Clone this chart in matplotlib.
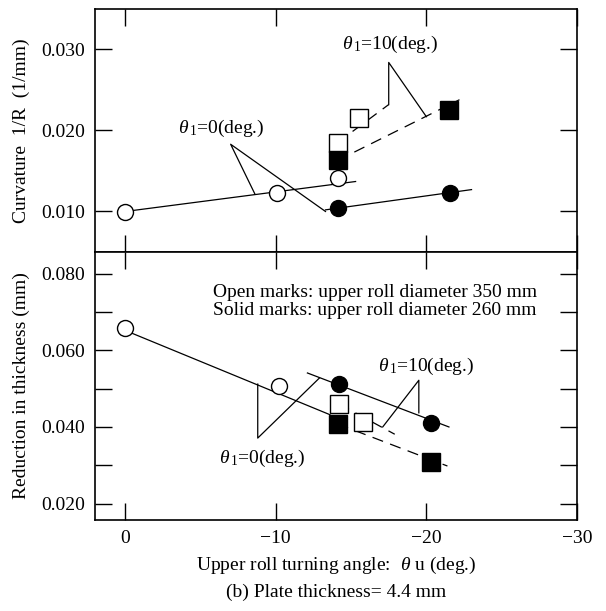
import matplotlib
matplotlib.use("Agg")
import matplotlib.pyplot as plt

plt.rcParams["font.family"] = ["Liberation Serif", "DejaVu Serif"]
plt.rcParams["mathtext.fontset"] = "custom"
plt.rcParams["mathtext.rm"] = "Liberation Serif"
plt.rcParams["mathtext.it"] = "Liberation Serif:italic"

# ---- upper panel: curvature 1/R (1/mm) ----
cur_open_circ_x = [0, -10.1, -14.1]
cur_open_circ_y = [0.0099, 0.0123, 0.0141]
cur_solid_circ_x = [-14.1, -21.6]
cur_solid_circ_y = [0.0104, 0.0123]
cur_open_sq_x = [-14.1, -15.5]
cur_open_sq_y = [0.0185, 0.0215]
cur_solid_sq_x = [-14.1, -21.5]
cur_solid_sq_y = [0.0164, 0.0225]

# fitted lines (end points)
cur_fit_open_circ = ([0, -15.3], [0.0100, 0.0137])
cur_fit_solid_circ = ([-13.3, -23.0], [0.0102, 0.0127])
cur_fit_open_sq = ([-14.1, -17.5], [0.0185, 0.0232])
cur_fit_solid_sq = ([-14.1, -22.2], [0.0163, 0.0238])

# leader lines to the labels
cur_lead_0 = ([-8.6, -7.0, -13.3], [0.0122, 0.0183, 0.0100])
cur_lead_10 = ([-17.5, -17.5, -20.0], [0.0232, 0.0284, 0.0217])

# ---- lower panel: reduction in thickness (mm) ----
red_open_circ_x = [0, -10.2]
red_open_circ_y = [0.0658, 0.0508]
red_solid_circ_x = [-14.2, -20.3]
red_solid_circ_y = [0.0512, 0.0410]
red_open_sq_x = [-14.2, -15.8]
red_open_sq_y = [0.0460, 0.0413]
red_solid_sq_x = [-14.1, -20.3]
red_solid_sq_y = [0.0408, 0.0309]

red_fit_open_circ = ([0, -13.6], [0.0652, 0.0432])
red_fit_solid_circ = ([-12.1, -21.5], [0.0541, 0.0400])
red_fit_open_sq = ([-14.2, -17.9], [0.0460, 0.0381])
red_fit_solid_sq = ([-14.1, -21.4], [0.0408, 0.0298])

red_lead_0 = ([-8.8, -8.8, -12.9], [0.0512, 0.0371, 0.0528])
red_lead_10 = ([-19.5, -19.5, -17.1], [0.0437, 0.0522, 0.0400])

x_ticks = [0, -10, -20, -30]
cur_ticks = [0.010, 0.020, 0.030]
red_ticks = [0.020, 0.030, 0.040, 0.050, 0.060, 0.070, 0.080]
red_tick_labels = ["0.020", "", "0.040", "", "0.060", "", "0.080"]

FS = 14
LW = 0.9
DASH = (0, (9, 6))

fig = plt.figure(figsize=(6.06, 6.11), dpi=100)
ax1 = fig.add_axes([0.157, 0.5876, 0.795, 0.3977])
ax2 = fig.add_axes([0.157, 0.1489, 0.795, 0.4387])


def markers(ax, x, y, marker, filled, ms):
    ax.plot(x, y, linestyle="none", marker=marker, ms=ms,
            mfc="black" if filled else "white", mec="black", mew=1.0, zorder=3)


def style(ax):
    ax.set_xlim(2, -30)
    ax.set_xticks(x_ticks)
    ax.tick_params(direction="in", top=True, right=True, length=12, width=1.0,
                   labelsize=FS, pad=7)
    for s in ax.spines.values():
        s.set_linewidth(1.2)


# upper panel
for line, ls in [(cur_fit_open_circ, "-"), (cur_fit_solid_circ, "-"),
                 (cur_fit_open_sq, DASH), (cur_fit_solid_sq, DASH)]:
    ax1.plot(line[0], line[1], color="black", lw=LW, ls=ls, zorder=2)
for lead in (cur_lead_0, cur_lead_10):
    ax1.plot(lead[0], lead[1], color="black", lw=LW, zorder=2)
markers(ax1, cur_open_circ_x, cur_open_circ_y, "o", False, 11.5)
markers(ax1, cur_solid_circ_x, cur_solid_circ_y, "o", True, 11.5)
markers(ax1, cur_open_sq_x, cur_open_sq_y, "s", False, 12.5)
markers(ax1, cur_solid_sq_x, cur_solid_sq_y, "s", True, 12.5)
ax1.text(-6.4, 0.0202, r"$\theta_{\,1}$=0(deg.)", fontsize=FS, ha="center", va="center")
ax1.text(-17.6, 0.0306, r"$\theta_{\,1}$=10(deg.)", fontsize=FS, ha="center", va="center")

style(ax1)
ax1.set_ylim(0.005, 0.035)
ax1.set_yticks(cur_ticks)
ax1.set_yticklabels([f"{v:.3f}" for v in cur_ticks])
ax1.tick_params(axis="x", labelbottom=False)
ax1.set_ylabel("Curvature  1/R  (1/mm)", fontsize=FS)
ax1.yaxis.set_label_coords(-0.135, 0.5)

# lower panel
for line, ls in [(red_fit_open_circ, "-"), (red_fit_solid_circ, "-"),
                 (red_fit_open_sq, DASH), (red_fit_solid_sq, DASH)]:
    ax2.plot(line[0], line[1], color="black", lw=LW, ls=ls, zorder=2)
for lead in (red_lead_0, red_lead_10):
    ax2.plot(lead[0], lead[1], color="black", lw=LW, zorder=2)
markers(ax2, red_open_circ_x, red_open_circ_y, "o", False, 11.5)
markers(ax2, red_solid_circ_x, red_solid_circ_y, "o", True, 11.5)
markers(ax2, red_open_sq_x, red_open_sq_y, "s", False, 12.5)
markers(ax2, red_solid_sq_x, red_solid_sq_y, "s", True, 12.5)
ax2.text(-9.1, 0.0319, r"$\theta_{\,1}$=0(deg.)", fontsize=FS, ha="center", va="center")
ax2.text(-20.0, 0.0559, r"$\theta_{\,1}$=10(deg.)", fontsize=FS, ha="center", va="center")
ax2.text(-5.85, 0.0750, "Open marks: upper roll diameter 350 mm", fontsize=FS,
         ha="left", va="center")
ax2.text(-5.85, 0.0703, "Solid marks: upper roll diameter 260 mm", fontsize=FS,
         ha="left", va="center")

style(ax2)
ax2.set_ylim(0.0157, 0.0857)
ax2.set_yticks(red_ticks)
ax2.set_yticklabels(red_tick_labels)
ax2.set_xticklabels([f"{t}" if t == 0 else f"\u2212{abs(t)}" for t in x_ticks])
ax2.set_ylabel("Reduction in thickness (mm)", fontsize=FS)
ax2.yaxis.set_label_coords(-0.135, 0.5)

fig.text(0.5545, 0.0753, r"Upper roll turning angle:  $\theta$ u (deg.)",
         fontsize=FS, ha="center", va="center")
fig.text(0.5545, 0.031, "(b) Plate thickness= 4.4 mm", fontsize=FS,
         ha="center", va="center")

fig.savefig("out.png", dpi=100)
